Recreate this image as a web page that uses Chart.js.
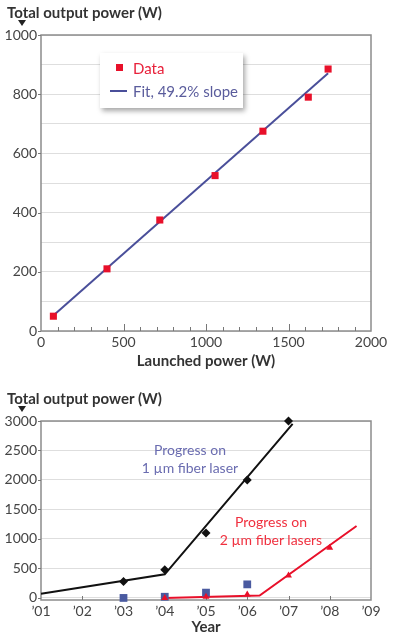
<!DOCTYPE html>
<html>
<head>
<meta charset="utf-8">
<script src="https://cdn.jsdelivr.net/npm/chart.js@4.4.1/dist/chart.umd.min.js"></script>
<style>
  body { margin: 0; width: 395px; height: 640px; background: #fff; position: relative; overflow: hidden; font-family: Lato, sans-serif; }
  .panel { position: absolute; left: 0; width: 395px; }
  #topPanel { top: 0; height: 370px; }
  #botPanel { top: 370px; height: 270px; }
  .ttl { position: absolute; left: 7px; font: bold 15px Lato, sans-serif; color: #333; white-space: nowrap; }
  .arrow { position: absolute; left: 18px; width: 0; height: 0; border-left: 4px solid transparent; border-right: 4px solid transparent; border-top: 6px solid #222; }
  .legend { position: absolute; left: 100px; top: 53px; width: 143px; height: 55px; background: #fff; box-shadow: 2px 3px 5px rgba(0,0,0,0.35); font: 15px Lato, sans-serif; }
  .legend div { position: absolute; left: 33px; white-space: nowrap; line-height: 18px; }
  .sq { position: absolute; left: 16px; top: 11px; width: 7px; height: 7px; background: #e8102a; }
  .ln { position: absolute; left: 10px; top: 37px; width: 17px; height: 2px; background: #4a4f9a; }
  .note { position: absolute; font: 14px Lato, sans-serif; text-align: center; white-space: nowrap; line-height: 18px; }
</style>
</head>
<body>
<div class="panel" id="topPanel">
  <canvas id="launchChart" width="395" height="370"></canvas>
</div>
<div class="panel" id="botPanel">
  <canvas id="yearChart" width="395" height="270"></canvas>
</div>

<div class="ttl" style="top:3px">Total output power (W)</div>
<div class="arrow" style="top:20px"></div>
<div class="ttl" style="top:389px">Total output power (W)</div>
<div class="arrow" style="top:406px"></div>

<div class="legend">
  <span class="sq"></span><div style="top:6px;color:#e8203a">Data</div>
  <span class="ln"></span><div style="top:29px;color:#5a5c9c">Fit, 49.2% slope</div>
</div>

<div class="note" style="left:130px;top:441px;width:120px;color:#6a6cb0">Progress on<br>1 µm fiber laser</div>
<div class="note" style="left:206px;top:513px;width:130px;color:#f0303f">Progress on<br>2 µm fiber lasers</div>

<script>
// top chart: output vs launched power
const launched = [75, 400, 720, 1055, 1345, 1620, 1740];
const outputPower = [50, 210, 375, 525, 675, 790, 885];
const fitLaunched = [75, 1740];
const fitOutput = [52, 871];

// bottom chart: progress by year
const yearLabels = ["’01", "’02", "’03", "’04", "’05", "’06", "’07", "’08", "’09"];
const years1um = [2003, 2004, 2005, 2006, 2007];
const power1um = [280, 480, 1100, 2000, 3000];
const fitYears1um = [2001, 2004, 2007.1];
const fitPower1um = [70, 400, 2950];
const yearsBlue = [2003, 2004, 2005, 2006];
const powerBlue = [0, 20, 90, 230];
const years2um = [2004, 2005, 2006, 2007, 2008];
const power2um = [0, 20, 60, 380, 850];
const fitYears2um = [2004, 2006.3, 2008.65];
const fitPower2um = [0, 40, 1220];
const yTicksBottom = [0, 500, 1000, 1500, 2000, 2500, 3000];

function pts(xs, ys) {
    return xs.map((x, i) => ({ x: x, y: ys[i] }));
}

const tickFont = { family: "Lato", size: 14 };
const titleFont = { family: "Lato", size: 15, weight: "bold" };

//frame round the plot, inward ticks on x, small outward ticks on y
const framePlugin = {
    id: "frame",
    beforeDatasetsDraw(chart, args, opts) {
        const ctx = chart.ctx;
        const a = chart.chartArea;
        const x = chart.scales.x;
        const y = chart.scales.y;
        ctx.save();
        ctx.strokeStyle = "#8c8c8c";
        ctx.lineWidth = 1.5;
        ctx.strokeRect(a.left, a.top, a.right - a.left, a.bottom - a.top);
        ctx.lineWidth = 1;
        ctx.strokeStyle = "#777";
        ctx.beginPath();
        x.ticks.forEach((t) => {
            if (t.value <= x.min || t.value >= x.max) return;
            const px = Math.round(x.getPixelForValue(t.value)) + 0.5;
            const len = opts.major && t.value % opts.major === 0 ? 7 : 4;
            ctx.moveTo(px, a.bottom);
            ctx.lineTo(px, a.bottom - len);
        });
        y.ticks.forEach((t) => {
            if (t.label === "") return;
            const py = Math.round(y.getPixelForValue(t.value)) + 0.5;
            ctx.moveTo(a.left, py);
            ctx.lineTo(a.left - 3, py);
        });
        ctx.stroke();
        ctx.restore();
    },
};

new Chart(document.getElementById("launchChart"), {
    type: "scatter",
    data: {
        datasets: [
            {
                label: "Data",
                data: pts(launched, outputPower),
                pointStyle: "rect",
                pointRadius: 5,
                backgroundColor: "#e8102a",
                borderColor: "#e8102a",
                borderWidth: 0,
                clip: false,
            },
            {
                label: "Fit, 49.2% slope",
                data: pts(fitLaunched, fitOutput),
                showLine: true,
                pointRadius: 0,
                borderColor: "#4a4f9a",
                borderWidth: 2,
            },
        ],
    },
    options: {
        responsive: false,
        animation: false,
        devicePixelRatio: 1,
        layout: { padding: { top: 35, right: 24, left: 0, bottom: 0 } },
        plugins: { legend: { display: false }, tooltip: { enabled: false }, frame: { major: 500 } },
        scales: {
            x: {
                type: "linear",
                min: 0,
                max: 2000,
                afterFit: (s) => { s.height = 39; },
                ticks: {
                    stepSize: 100,
                    autoSkip: false,
                    maxRotation: 0,
                    padding: 3,
                    color: "#444",
                    font: tickFont,
                    callback: (v) => (v % 500 === 0 ? String(v) : ""),
                },
                grid: { drawOnChartArea: false, drawTicks: false },
                border: { display: false },
                title: { display: true, text: "Launched power (W)", color: "#333", font: titleFont, padding: { top: 0, bottom: 0 } },
            },
            y: {
                min: 0,
                max: 1000,
                afterFit: (s) => { s.width = 41; },
                ticks: {
                    stepSize: 100,
                    autoSkip: false,
                    padding: 4,
                    color: "#444",
                    font: tickFont,
                    callback: (v) => (v % 200 === 0 ? String(v) : ""),
                },
                grid: { color: "#dedede", drawTicks: false },
                border: { display: false },
            },
        },
    },
    plugins: [framePlugin],
});

new Chart(document.getElementById("yearChart"), {
    type: "scatter",
    data: {
        datasets: [
            {
                label: "1 µm",
                data: pts(years1um, power1um),
                pointStyle: "rectRot",
                pointRadius: 4.5,
                backgroundColor: "#111",
                borderColor: "#111",
                borderWidth: 0,
                clip: false,
            },
            {
                label: "2 µm",
                data: pts(years2um, power2um),
                pointStyle: "triangle",
                pointRadius: 4,
                backgroundColor: "#e8102a",
                borderColor: "#e8102a",
                borderWidth: 0,
                clip: false,
            },
            {
                label: "other",
                data: pts(yearsBlue, powerBlue),
                pointStyle: "rect",
                pointRadius: 5.5,
                backgroundColor: "#4a5aa0",
                borderColor: "#4a5aa0",
                borderWidth: 0,
                clip: false,
            },
            {
                label: "fit 1 µm",
                data: pts(fitYears1um, fitPower1um),
                showLine: true,
                pointRadius: 0,
                borderColor: "#111",
                borderWidth: 2,
                clip: false,
            },
            {
                label: "fit 2 µm",
                data: pts(fitYears2um, fitPower2um),
                showLine: true,
                pointRadius: 0,
                borderColor: "#e8102a",
                borderWidth: 2,
            },
        ],
    },
    options: {
        responsive: false,
        animation: false,
        devicePixelRatio: 1,
        layout: { padding: { top: 51, right: 24, left: 0, bottom: 0 } },
        plugins: { legend: { display: false }, tooltip: { enabled: false }, frame: {} },
        scales: {
            x: {
                type: "linear",
                min: 2001,
                max: 2009,
                afterFit: (s) => { s.height = 40; },
                ticks: {
                    stepSize: 1,
                    autoSkip: false,
                    maxRotation: 0,
                    padding: 3,
                    color: "#444",
                    font: tickFont,
                    callback: (v) => yearLabels[v - 2001],
                },
                grid: { drawOnChartArea: false, drawTicks: false },
                border: { display: false },
                title: { display: true, text: "Year", color: "#333", font: titleFont, padding: { top: 0, bottom: 4 } },
            },
            y: {
                min: -35,
                max: 3000,
                afterFit: (s) => { s.width = 41; },
                afterBuildTicks: (s) => { s.ticks = yTicksBottom.map((v) => ({ value: v })); },
                ticks: { padding: 4, color: "#444", font: tickFont, callback: (v) => String(v) },
                grid: { color: "#dedede", drawTicks: false },
                border: { display: false },
            },
        },
    },
    plugins: [framePlugin],
});
</script>
</body>
</html>
